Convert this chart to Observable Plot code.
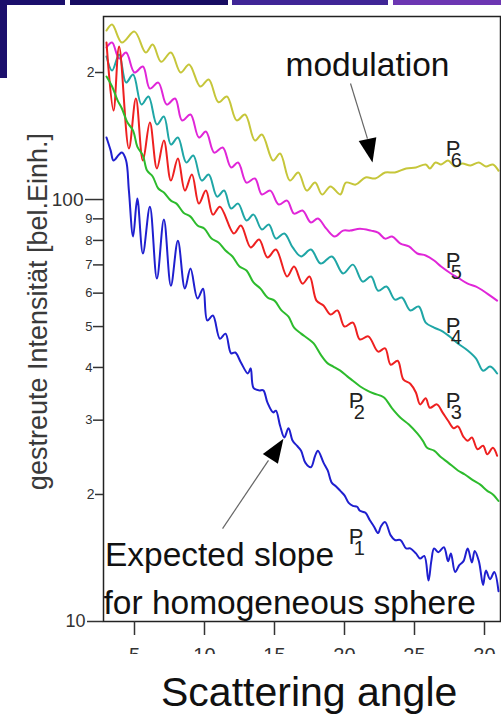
<!DOCTYPE html>
<html>
<head>
<meta charset="utf-8">
<script src="https://cdn.jsdelivr.net/npm/d3@7"></script>
<script src="https://cdn.jsdelivr.net/npm/@observablehq/plot@0.6"></script>
<style>
  body { margin: 0; background: #fff; font-family: "Liberation Sans", Arial, sans-serif; }
  #page { position: relative; width: 501px; height: 715px; overflow: hidden; background: #fff; }
  #chart { position: absolute; left: 0; top: 0; width: 501px; height: 654px; overflow: hidden; }
  .band { position: absolute; top: 0; height: 5px; }
  #ylabel { position: absolute; left: -162px; top: 298px; width: 400px; height: 27px; line-height: 27px;
            text-align: center; font-size: 27px; color: #3a3a3a; transform: rotate(-90deg); white-space: nowrap; }
  #xlabel { position: absolute; left: 161px; top: 672px; font-size: 41px; line-height: 41px; color: #111; white-space: nowrap; }
</style>
</head>
<body>
<div id="page">
  <div class="band" style="left:0;width:65px;background:#1b0f6c"></div>
  <div class="band" style="left:70px;width:158px;background:#170c62"></div>
  <div class="band" style="left:232px;width:156px;background:#3f2596"></div>
  <div class="band" style="left:393px;width:108px;background:#6c36b2"></div>
  <div style="position:absolute;left:0;top:0;width:7px;height:78px;background:#1b0f6c"></div>
  <div id="chart"></div>
  <div id="ylabel">gestreute Intensität [bel.Einh.]</div>
  <div id="xlabel">Scattering angle</div>
</div>
<script>
// ---- data (scattering angle in degrees, intensity in arbitrary units) ----
const p1Angle = [3.0,3.3,3.5,3.9,4.1,4.4,4.6,4.9,5.2,5.6,6.1,6.6,7.1,7.6,8.1,8.6,9.0,9.5,9.9,10.2,10.6,11.1,11.5,11.9,12.2,12.6,13.1,13.3,13.5,13.9,14.2,14.5,14.9,15.1,15.4,15.7,16.0,16.3,16.6,16.9,17.2,17.6,17.9,18.1,18.5,18.8,19.1,19.4,19.7,20.0,20.3,20.6,20.9,21.1,21.5,21.8,22.1,22.4,22.6,22.9,23.3,23.6,24.0,24.4,24.7,25.1,25.4,25.7,26.0,26.2,26.4,26.7,27.1,27.4,27.6,27.9,28.2,28.5,28.8,29.1,29.3,29.6,29.9,30.1,30.4,30.7,31.0];
const p1 = [140.3,130.6,123.7,127.9,129.2,123.7,105.0,81.7,100.5,74.5,96.2,65.0,89.7,62.5,79.9,61.5,68.6,58.3,61.5,51.7,53.1,46.8,48.1,43.2,43.4,41.1,38.7,39.8,35.8,35.3,35.3,33.0,31.3,31.6,29.1,27.3,28.7,26.8,26.1,25.4,23.8,23.2,24.7,25.4,23.8,22.8,21.3,20.9,20.4,19.9,19.1,18.8,18.7,18.3,18.1,17.4,16.8,16.2,16.8,17.2,16.0,15.6,15.6,14.9,14.9,14.5,14.1,14.3,12.5,13.9,14.9,14.6,15.0,13.9,14.5,13.1,13.6,13.9,14.9,13.8,14.7,13.9,12.2,13.2,12.6,13.1,11.8];

const p2Angle = [3.0,3.4,3.8,4.1,4.5,4.9,5.2,5.6,5.9,6.3,6.7,7.1,7.6,8.0,8.5,9.0,9.5,10.0,10.5,11.0,11.5,12.0,12.5,13.0,13.5,14.0,14.5,15.0,15.5,16.0,16.4,16.9,17.4,17.8,18.3,18.8,19.2,19.7,20.2,20.6,21.1,21.6,22.1,22.8,23.4,24.0,24.6,25.2,25.6,25.9,26.4,26.9,27.4,28.1,28.6,29.2,29.7,30.2,30.6,31.0];
const p2 = [195.6,185.3,171.6,164.3,152.2,145.7,133.5,127.2,117.1,113.4,106.2,103.9,99.4,97.8,93.1,91.1,86.8,85.3,80.8,79.1,75.7,73.3,69.4,67.9,63.6,61.5,58.6,57.6,54.6,52.8,49.7,48.1,46.8,45.6,42.9,40.9,40.2,39.3,38.1,37.2,36.1,35.3,34.7,34.0,32.0,30.4,29.3,27.9,26.8,25.8,25.4,24.5,23.8,22.8,22.3,21.6,21.1,20.4,20.0,19.3];

const p3Angle = [3.0,3.5,3.9,4.6,5.1,5.6,6.1,6.6,7.1,7.6,8.1,8.6,9.1,9.6,10.1,10.6,11.1,12.1,12.6,13.3,13.9,14.5,15.1,15.9,16.4,17.0,17.5,18.0,18.5,19.0,19.5,20.0,20.6,21.1,21.7,22.4,22.9,23.3,23.8,24.2,24.7,25.1,25.4,25.8,26.1,26.6,27.0,27.4,27.8,28.1,28.5,28.8,29.1,29.5,29.9,30.2,30.6,30.9];
const p3 = [235.5,162.5,230.4,132.1,173.5,123.7,152.2,118.5,138.0,110.9,125.1,105.0,114.6,97.8,105.0,92.1,96.2,83.1,86.8,77.0,80.4,72.9,76.1,65.7,69.4,63.2,65.7,57.6,56.1,53.4,54.6,50.0,51.1,46.6,47.4,43.6,44.4,40.6,41.5,37.5,36.6,34.9,32.7,33.8,32.1,32.7,31.3,29.9,28.7,29.0,27.4,26.8,27.3,25.6,26.1,24.9,25.8,24.7];

const p4Angle = [3.0,3.4,3.9,4.4,4.9,5.5,6.0,6.6,7.1,7.6,8.1,8.7,9.2,9.8,10.3,10.9,11.4,11.9,12.4,13.0,13.5,14.1,14.6,15.1,15.7,16.3,16.9,17.6,18.3,19.1,19.9,20.6,21.3,21.9,22.4,23.0,23.6,24.1,24.7,25.3,25.8,26.4,26.9,27.6,28.1,28.8,29.4,29.9,30.4,30.9];
const p4 = [218.3,202.2,220.6,189.3,197.8,167.9,175.4,150.6,157.3,135.0,140.3,122.4,127.2,110.9,114.6,101.6,105.0,95.2,97.8,89.2,92.1,84.9,87.3,80.8,83.1,77.0,73.3,76.1,70.5,73.3,66.8,70.1,63.9,65.7,60.8,62.2,57.9,58.6,54.6,55.8,51.1,49.7,48.9,47.1,45.6,43.9,42.0,39.3,40.2,38.7];

const p5Angle = [3.0,3.4,3.9,4.4,5.0,5.6,6.1,6.7,7.3,7.9,8.4,9.0,9.6,10.1,10.7,11.3,11.9,12.4,13.0,13.6,14.1,14.7,15.3,15.9,16.4,17.0,17.6,18.1,18.7,19.3,19.9,20.4,21.1,21.9,22.4,22.9,23.4,24.0,24.6,25.2,25.8,26.4,26.9,27.6,28.1,28.8,29.4,29.9,30.4,30.9];
const p5 = [229.2,235.5,215.9,223.0,200.0,206.6,183.2,189.3,167.9,173.5,153.9,159.0,140.3,144.9,129.2,132.8,119.1,122.4,109.7,112.2,102.8,105.0,97.3,99.4,92.6,94.2,88.2,90.2,85.3,81.7,84.4,84.4,85.3,84.4,83.5,80.8,81.7,78.6,77.4,74.5,73.7,71.7,69.4,66.8,65.3,63.2,62.2,60.8,59.2,57.6];

const p6Angle = [3.0,3.4,4.1,5.0,5.8,6.3,6.9,7.6,8.3,8.9,9.7,10.3,11.0,11.6,12.3,12.9,13.6,14.1,14.9,15.4,16.1,16.7,17.3,17.9,18.4,19.0,19.7,20.1,20.8,21.5,22.2,22.9,23.6,24.4,25.1,25.8,26.1,26.5,26.9,27.4,27.9,28.4,29.0,29.6,30.1,30.6,31.0];
const p6 = [251.5,260.0,235.5,250.0,223.0,233.0,212.0,223.0,200.0,209.0,185.3,192.5,170.0,175.4,154.0,159.0,138.0,142.6,123.7,128.5,110.9,115.9,105.0,109.7,102.8,107.4,102.8,109.7,108.5,112.8,112.2,115.9,115.9,118.5,119.1,121.1,118.5,122.4,121.1,123.7,119.7,121.7,120.4,122.4,119.7,121.1,117.1];

const seriesNames = ["P6", "P5", "P4", "P3", "P2", "P1"];
const seriesColors = ["#c6c63a", "#e026d8", "#1fa6a6", "#ee2020", "#2dbb2d", "#1f1fcf"];
const seriesAngles = [p6Angle, p5Angle, p4Angle, p3Angle, p2Angle, p1Angle];
const seriesValues = [p6, p5, p4, p3, p2, p1];

const xTicks = [5, 10, 15, 20, 25, 30];
const yMajorTicks = [100];
const yBottomTicks = [10];
const yTwoTicks = [20, 200];
const yMinorTicks = [30, 40, 50, 60, 70, 80, 90];

// curve labels: "P" + subscript
const labelText = ["P", "P", "P", "P", "P", "P"];
const labelSub = ["6", "5", "4", "3", "2", "1"];
const labelAngle = [27.24, 27.24, 27.24, 27.24, 20.31, 20.31];
const labelValue = [132.1, 71.7, 50.3, 33.4, 33.4, 15.9];

// annotations
const noteText = ["modulation", "Expected slope", "for homogeneous sphere"];
const noteAngle = [15.79, 2.89, 2.786];
const noteValue = [208.4, 14.38, 11.07];

// arrows: start (tail) -> head base, and head tip with direction (deg, clockwise from up)
const arrowX1 = [20.43, 11.29];
const arrowY1 = [188.4, 16.6];
const arrowX2 = [21.64, 14.57];
const arrowY2 = [139.4, 24.1];
const arrowTipX = [22.0, 15.64];
const arrowTipY = [122.4, 27.1];
const arrowRotate = [168, 33];

// ---- build ----
const lineMarks = seriesNames.map((name, k) =>
  Plot.line(seriesAngles[k].map((a, i) => ({angle: a, value: seriesValues[k][i]})), {
    x: "angle", y: "value", stroke: seriesColors[k], strokeWidth: 2, curve: "catmull-rom"
  })
);

const labels = labelText.map((t, i) => ({t, s: labelSub[i], angle: labelAngle[i], value: labelValue[i]}));
const notes = noteText.map((t, i) => ({t, angle: noteAngle[i], value: noteValue[i]}));
const arrows = arrowX1.map((x1, i) => ({x1, y1: arrowY1[i], x2: arrowX2[i], y2: arrowY2[i], tx: arrowTipX[i], ty: arrowTipY[i], rot: arrowRotate[i]}));

const headSymbol = {
  draw(context) {
    const L = 24, w = 9;
    context.moveTo(0, 0);
    context.lineTo(w, L);
    context.lineTo(-w, L);
    context.closePath();
  }
};

const chart = Plot.plot({
  width: 501,
  height: 654,
  marginTop: 16,
  marginLeft: 103,
  marginRight: 1,
  marginBottom: 33,
  x: {type: "linear", domain: [2.786, 31.143]},
  y: {type: "log", domain: [10, 271.5]},
  style: {fontFamily: "Liberation Sans, Arial, sans-serif", background: "transparent", overflow: "hidden"},
  marks: [
    ...lineMarks,
    Plot.text(notes, {x: "angle", y: "value", text: "t", textAnchor: "start", lineAnchor: "middle", fontSize: 33.5, fill: "#111"}),
    Plot.text(labels, {x: "angle", y: "value", text: "t", textAnchor: "start", lineAnchor: "middle", fontSize: 22, fill: "#222"}),
    Plot.text(labels, {x: "angle", y: "value", text: "s", textAnchor: "start", lineAnchor: "middle", fontSize: 20, fill: "#222", dx: 5, dy: 12}),
    Plot.link(arrows, {x1: "x1", y1: "y1", x2: "x2", y2: "y2", stroke: "#666", strokeWidth: 1.2}),
    Plot.dot(arrows, {x: "tx", y: "ty", rotate: "rot", symbol: headSymbol, r: 5, fill: "#000", stroke: "none"}),
    Plot.frame({stroke: "#222", strokeWidth: 1.5}),
    Plot.axisX({ticks: xTicks, tickSize: 14, tickPadding: 12, fontSize: 20, color: "#333", strokeWidth: 1.5, label: null, tickFormat: d => String(d)}),
    Plot.axisY({ticks: yMajorTicks, tickSize: 18, tickPadding: 2, fontSize: 19, color: "#333", strokeWidth: 1.5, label: null, tickFormat: d => String(d)}),
    Plot.axisY({ticks: yBottomTicks, tickSize: 16, tickPadding: 2, fontSize: 18, color: "#333", strokeWidth: 1.5, label: null, tickFormat: d => String(d)}),
    Plot.axisY({ticks: yTwoTicks, tickSize: 8, tickPadding: 1, fontSize: 14, color: "#333", strokeWidth: 1.5, label: null, tickFormat: d => String(d).charAt(0)}),
    Plot.axisY({ticks: yMinorTicks, tickSize: 10, tickPadding: 1, fontSize: 13, color: "#333", strokeWidth: 1.5, label: null, tickFormat: d => String(d).charAt(0)})
  ]
});
document.getElementById("chart").appendChild(chart);
</script>
</body>
</html>
